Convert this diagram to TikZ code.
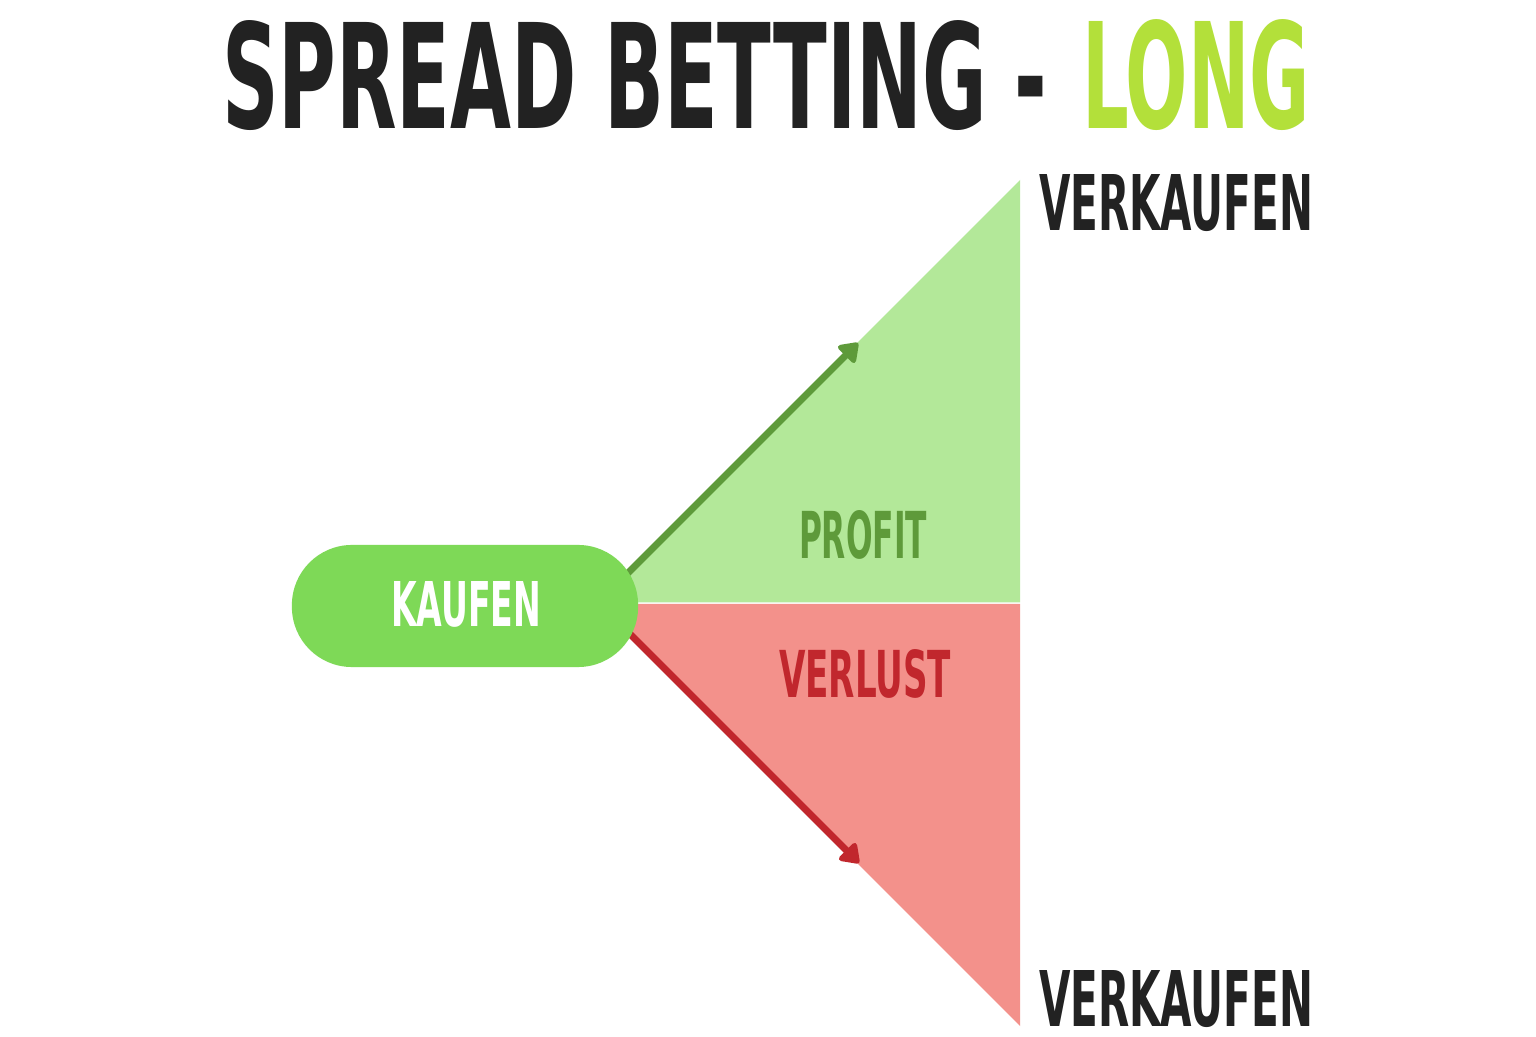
\documentclass[tikz,border=0pt]{standalone}
\usepackage{fontspec}
\usepackage{graphicx}
\newfontfamily\bebas{DejaVu Sans Condensed}
\usetikzlibrary{arrows.meta}
\newdimen\px \px=0.01cm
\definecolor{darktext}{HTML}{222222}
\definecolor{longgreen}{HTML}{B3E03A}
\definecolor{profitbg}{HTML}{B3E899}
\definecolor{lossbg}{HTML}{F3918B}
\definecolor{pillgreen}{HTML}{7ED957}
\definecolor{profitdark}{HTML}{5E9A3A}
\definecolor{lossdark}{HTML}{C1272D}
\newcommand{\fitxt}[3]{\resizebox{#1\px}{#2\px}{\bebas\bfseries #3}}
\begin{document}
\begin{tikzpicture}[x=0.01cm,y=-0.01cm,
  lbl/.style={inner sep=0pt, outer sep=0pt, anchor=south west},
  pill/.style={fill=pillgreen, rounded corners=0.6cm, minimum width=3.46cm, minimum height=1.22cm, inner sep=0pt},
  arr/.style={line width=0.07cm, -{Triangle[round, length=0.2cm, width=0.27cm]}}
]
\useasboundingbox (0,0) rectangle (1536,1037);
\fill[white] (0,0) rectangle (1536,1037);
% triangles
\fill[profitbg] (1020,180) -- (1020,602.5) -- (597.5,602.5) -- cycle;
\fill[lossbg] (1020,604) -- (1020,1026) -- (598,604) -- cycle;
% arrows
\coordinate (gs) at (600,601);
\coordinate (ge) at (858,343);
\coordinate (rs) at (600,604);
\coordinate (re) at (859,863);
\draw[arr, draw=profitdark, fill=profitdark] (gs) -- (ge);
\draw[arr, draw=lossdark, fill=lossdark] (rs) -- (re);
% pill
\node[pill] (kaufen) at (465,606) {};
\node[lbl, text=white] (kaufentxt) at (391,627) {\fitxt{150}{45}{KAUFEN}};
% labels
\node[lbl, text=profitdark] (profit) at (799,559) {\fitxt{128}{48}{PROFIT}};
\node[lbl, text=lossdark] (verlust) at (779,698) {\fitxt{172}{48}{VERLUST}};
\node[lbl, text=darktext] (vtop) at (1039,232) {\fitxt{274}{56}{VERKAUFEN}};
\node[lbl, text=darktext] (vbot) at (1039,1028) {\fitxt{274}{56}{VERKAUFEN}};
% title
\node[lbl, text=darktext] (title) at (222,131) {\fitxt{825}{108}{SPREAD BETTING -}};
\node[lbl, text=longgreen] (long) at (1082,131) {\fitxt{228}{109}{LONG}};
\end{tikzpicture}
\end{document}
